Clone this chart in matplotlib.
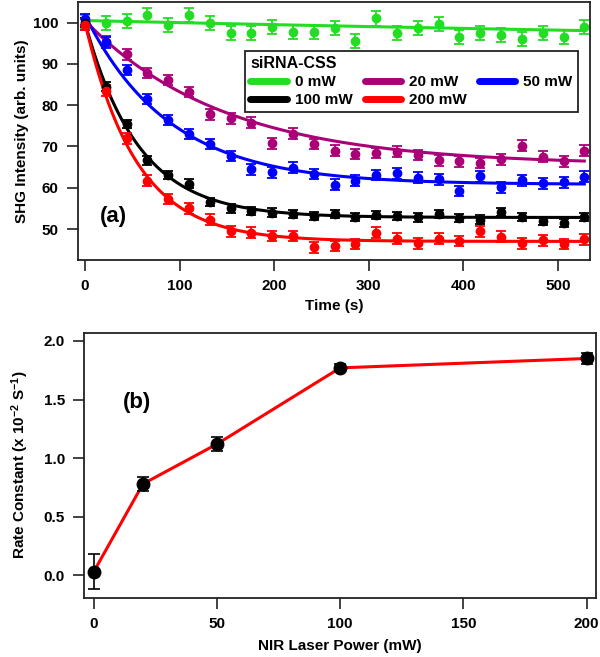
import numpy as np
import matplotlib.pyplot as plt
from matplotlib.lines import Line2D
from matplotlib.ticker import FormatStrFormatter

plt.rcParams['font.family'] = ['Liberation Sans', 'DejaVu Sans']
plt.rcParams['font.weight'] = 'bold'
plt.rcParams['axes.labelweight'] = 'bold'
plt.rcParams['mathtext.fontset'] = 'custom'
plt.rcParams['mathtext.rm'] = 'Liberation Sans:bold'
plt.rcParams['mathtext.it'] = 'Liberation Sans:bold'
plt.rcParams['mathtext.bf'] = 'Liberation Sans:bold'
plt.rcParams['mathtext.default'] = 'rm'

# panel (a): SHG decay vs time
time = [0, 22, 44, 66, 88, 110, 132, 154, 176, 198, 220, 242, 264,
        286, 308, 330, 352, 374, 396, 418, 440, 462, 484, 506, 528]
shg_0 = [100.2, 100.0, 100.4, 101.8, 99.4, 101.8, 100.0, 97.5, 97.5, 99.0, 97.8, 97.8, 98.8,
         95.6, 101.0, 97.5, 98.6, 99.6, 96.6, 97.5, 97.0, 96.0, 97.5, 96.4, 99.0]
shg_20 = [99.5, 95.4, 92.3, 87.8, 86.1, 83.2, 77.8, 76.8, 75.8, 70.8, 73.1, 70.6, 69.0,
          68.2, 68.4, 68.7, 67.9, 66.6, 66.4, 66.0, 66.9, 70.2, 67.5, 66.4, 69.0]
shg_50 = [100.8, 95.2, 88.5, 81.5, 76.4, 73.0, 70.6, 67.7, 64.5, 63.7, 64.9, 63.3, 60.7,
          61.7, 63.1, 63.5, 62.4, 62.0, 59.2, 62.8, 60.1, 61.8, 61.1, 61.3, 62.7]
shg_100 = [100.0, 84.5, 75.5, 66.6, 63.1, 61.0, 56.5, 55.0, 54.4, 54.0, 53.6, 53.1, 53.6,
           53.0, 53.4, 53.1, 52.8, 53.6, 52.6, 52.3, 54.2, 53.0, 52.0, 51.5, 53.0]
shg_200 = [99.5, 83.5, 72.0, 61.7, 57.3, 55.0, 52.3, 49.4, 49.1, 48.3, 48.3, 45.6, 45.9,
           46.4, 49.1, 47.7, 46.5, 47.7, 47.1, 49.4, 48.1, 46.5, 47.3, 46.4, 47.5]
shg_err = [1.7, 1.3, 1.3, 1.0, 1.3]

labels = ['0 mW', '20 mW', '50 mW', '100 mW', '200 mW']
colors = ['#22dd22', '#aa0077', '#0000ff', '#000000', '#ff0000']

# exponential fit parameters: y0 + A*exp(-k t)
fit_y0 = [90.0, 65.5, 60.8, 52.8, 47.0]
fit_amp = [10.5, 35.0, 41.0, 47.2, 53.0]
fit_k = [0.0005, 0.0068, 0.0112, 0.0177, 0.0185]

# panel (b): rate constant vs laser power
power = [0, 20, 50, 100, 200]
rate = [0.03, 0.78, 1.12, 1.77, 1.85]
rate_err = [0.15, 0.06, 0.06, 0.03, 0.05]

fig = plt.figure(figsize=(6, 6.57), dpi=100)

ax1 = fig.add_axes([0.13, 0.6043, 0.8533, 0.3927])
series = [shg_0, shg_20, shg_50, shg_100, shg_200]
tfit = np.linspace(0, time[-1], 300)
handles = []
for s, err, c, lab, y0, a, k in zip(series, shg_err, colors, labels, fit_y0, fit_amp, fit_k):
    ax1.errorbar(time, s, yerr=err, fmt='o', color=c, ms=6, elinewidth=1.3,
                 capsize=3.5, capthick=1.3)
    ax1.plot(tfit, y0 + a * np.exp(-k * tfit), color=c, lw=2.2)
    handles.append(Line2D([], [], color=c, lw=5, solid_capstyle='round', label=lab))

leg_order = [0, 3, 1, 4, 2]
leg = ax1.legend([handles[i] for i in leg_order], [labels[i] for i in leg_order],
                 ncol=3, title='siRNA-CSS', loc='upper left', bbox_to_anchor=(0.326, 0.81),
                 borderaxespad=0, fontsize=11, title_fontsize=11.5, handlelength=2.4,
                 handletextpad=0.5, columnspacing=0.8, labelspacing=0.25, borderpad=0.35,
                 fancybox=False, framealpha=1, edgecolor='#222222', alignment='left')
leg.get_frame().set_linewidth(1.3)
leg.get_title().set_fontweight('bold')
for t in leg.get_texts():
    t.set_fontweight('bold')

ax1.set_xlim(-7.4, 534)
ax1.set_ylim(42.5, 105)
ax1.set_xticks([0, 100, 200, 300, 400, 500])
ax1.set_yticks([50, 60, 70, 80, 90, 100])
ax1.set_xlabel('Time (s)', fontsize=11, labelpad=4)
ax1.set_ylabel('SHG Intensity (arb. units)', fontsize=11, labelpad=3)
ax1.text(0.07, 0.17, '(a)', transform=ax1.transAxes, fontsize=16, fontweight='bold',
         ha='center', va='center')

ax2 = fig.add_axes([0.1405, 0.0903, 0.8528, 0.4033])
ax2.plot(power, rate, color='#ff0000', lw=2.2, zorder=2)
ax2.errorbar(power, rate, yerr=rate_err, fmt='o', color='black', ms=9, elinewidth=1.2,
             capsize=4, capthick=1.2, zorder=3)
ax2.set_xlim(-3.8, 203.8)
ax2.set_ylim(-0.19, 2.07)
ax2.set_xticks([0, 50, 100, 150, 200])
ax2.set_yticks([0.0, 0.5, 1.0, 1.5, 2.0])
ax2.yaxis.set_major_formatter(FormatStrFormatter('%.1f'))
ax2.set_xlabel('NIR Laser Power (mW)', fontsize=11, labelpad=6)
ax2.set_ylabel(r'Rate Constant (x 10$^{-2}$ S$^{-1}$)', fontsize=11, labelpad=9)
ax2.text(0.103, 0.735, '(b)', transform=ax2.transAxes, fontsize=16, fontweight='bold',
         ha='center', va='center')

for ax in (ax1, ax2):
    for sp in ax.spines.values():
        sp.set_linewidth(1.3)
        sp.set_color('#222222')
    ax.tick_params(direction='out', length=8, width=1.2, labelsize=11, pad=6,
                   color='#222222')
    for lbl in ax.get_xticklabels() + ax.get_yticklabels():
        lbl.set_fontweight('bold')

fig.savefig('out.png', dpi=100)
